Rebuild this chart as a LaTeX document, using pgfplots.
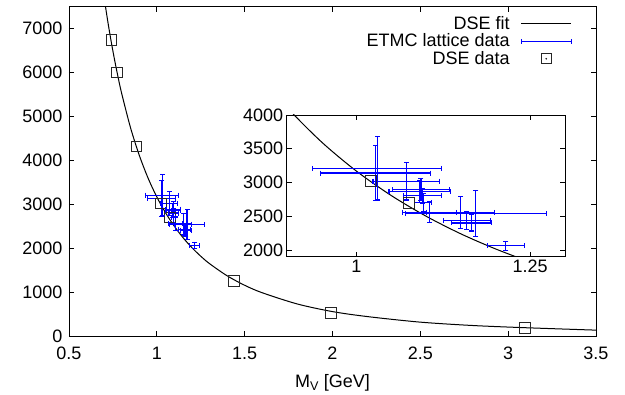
\documentclass[border=0pt]{standalone}
\usepackage{fontspec}
\setmainfont{Liberation Sans}
\usepackage{pgfplots}
\usepackage{pgfplotstable}
\pgfplotsset{compat=1.18}

\pgfplotstableread{
x y
0.70 7708
0.72 7185
0.74 6710
0.76 6279
0.78 5885
0.80 5525
0.85 4750
0.90 4120
0.95 3601
1.00 3170
1.05 2808
1.10 2502
1.15 2240
1.20 2016
1.25 1822
1.30 1653
1.40 1377
1.50 1161
1.60 991
1.80 735
2.00 562
2.20 448
2.50 322
2.80 245
3.10 195
3.50 140
}\fitdata

% ETMC lattice points: horizontal error bars (x-ex .. x+ex at y)
\pgfplotstableread{
x y
0.937 3210
1.123 3210
nan nan
0.949 3140
1.107 3140
nan nan
1.024 3020
1.120 3020
nan nan
1.052 2895
1.134 2895
nan nan
1.047 2865
1.135 2865
nan nan
1.068 2805
1.122 2805
nan nan
1.084 2700
1.108 2700
nan nan
1.066 2558
1.144 2558
nan nan
1.101 2555
1.199 2555
nan nan
1.125 2435
1.193 2435
nan nan
1.137 2400
1.195 2400
nan nan
1.071 2540
1.273 2540
nan nan
1.188 2060
1.242 2060
}\hbars

% ETMC lattice points: vertical error bars (y-ey .. y+ey at x)
\pgfplotstableread{
x y
1.030 2740
1.030 3680
nan nan
1.028 2730
1.028 3550
nan nan
1.072 2740
1.072 3300
nan nan
1.093 2730
1.093 3060
nan nan
1.091 2705
1.091 3025
nan nan
1.095 2695
1.095 2915
nan nan
1.096 2565
1.096 2835
nan nan
1.105 2402
1.105 2714
nan nan
1.150 2315
1.150 2795
nan nan
1.159 2304
1.159 2566
nan nan
1.166 2281
1.166 2519
nan nan
1.172 2195
1.172 2885
nan nan
1.215 1990
1.215 2130
}\vbars

\pgfplotstableread{
x y
0.742 6750
0.772 6005
0.883 4319
1.0215 3027
1.0755 2701
1.439 1260
1.992 538
3.095 195
}\dse

\definecolor{eb}{RGB}{0,0,255}

\pgfplotsset{
  mystyle/.style={
    scale only axis,
    anchor=south west,
    tick align=inside,
    major tick length=5pt,
    axis line style={line width=0.9pt},
    tick style={line width=0.8pt, black},
    scaled ticks=false,
    tick label style={font=\fontsize{18}{21}\selectfont},
    /pgf/number format/assume math mode=true,
    /pgf/number format/1000 sep={},
  },
  barline/.style={draw=eb, line width=1.1pt, unbounded coords=jump, mark=none},
  capmark/.style={only marks, unbounded coords=jump, mark=#1, mark size=2.5pt,
    mark options={draw=eb, line width=1.1pt}},
}

\begin{document}
\begin{tikzpicture}
\path[use as bounding box] (-69pt,-58.7pt) rectangle (556pt,336.3pt);
\begin{axis}[mystyle,
  at={(0pt,0pt)},
  width=527pt, height=329.6pt,
  xmin=0.5, xmax=3.5, ymin=0, ymax=7500,
  xtick={0.5,1,1.5,2,2.5,3,3.5},
  ytick={0,1000,2000,3000,4000,5000,6000,7000},
  xticklabel style={yshift=-7pt},
  yticklabel style={xshift=-3pt},
  xlabel={M\textsubscript{V} [GeV]},
  xlabel style={font=\fontsize{18}{21}\selectfont, at={(axis description cs:0.5,0)}, anchor=base, yshift=-51pt},
  legend plot pos=right,
  legend cell align=right,
  legend style={draw=none, fill=none, at={(1,1)}, anchor=north east,
    xshift=-21pt, yshift=-6pt, row sep=0pt, column sep=9pt,
    font=\fontsize{18}{21}\selectfont,
    nodes={inner ysep=1.5pt, inner xsep=2pt}},
]
\addplot[black, line width=1pt, smooth,
  legend image code/.code={\draw[black, line width=1pt] (0pt,0pt) -- (50pt,0pt);}]
  table[x=x, y=y] {\fitdata};
\addlegendentry{DSE fit}
\addplot[barline,
  legend image code/.code={
    \draw[draw=eb, line width=1.1pt] (0pt,0pt) -- (50pt,0pt)
      (0pt,-2.5pt) -- (0pt,2.5pt) (50pt,-2.5pt) -- (50pt,2.5pt);}]
  table[x=x, y=y] {\hbars};
\addlegendentry{ETMC lattice data}
\addplot[only marks, mark=square, mark size=5.3pt,
  mark options={draw=black!85, line width=0.8pt, fill=none},
  legend image code/.code={
    \draw[black!85, line width=0.8pt] (20pt,-5pt) rectangle (30pt,5pt);
    \fill[black!85] (25pt,0pt) circle (0.7pt);}]
  table[x=x, y=y] {\dse};
\addlegendentry{DSE data}
\addplot[barline, forget plot] table[x=x, y=y] {\vbars};
\addplot[capmark={|}, forget plot] table[x=x, y=y] {\hbars};
\addplot[capmark={-}, forget plot] table[x=x, y=y] {\vbars};
\end{axis}

\begin{axis}[mystyle,
  at={(217.7pt,79.6pt)},
  width=278.3pt, height=141.7pt,
  xmin=0.9, xmax=1.3, ymin=1900, ymax=4000,
  xtick={1,1.25},
  ytick={2000,2500,3000,3500,4000},
  axis background/.style={fill=white},
]
\addplot[black, line width=1pt, smooth] table[x=x, y=y] {\fitdata};
\addplot[barline] table[x=x, y=y] {\hbars};
\addplot[barline] table[x=x, y=y] {\vbars};
\addplot[capmark={|}] table[x=x, y=y] {\hbars};
\addplot[capmark={-}] table[x=x, y=y] {\vbars};
\addplot[only marks, mark=square, mark size=5.5pt,
  mark options={draw=black!85, line width=0.8pt, fill=none}]
  table[x=x, y=y] {\dse};
\end{axis}
\end{tikzpicture}
\end{document}
